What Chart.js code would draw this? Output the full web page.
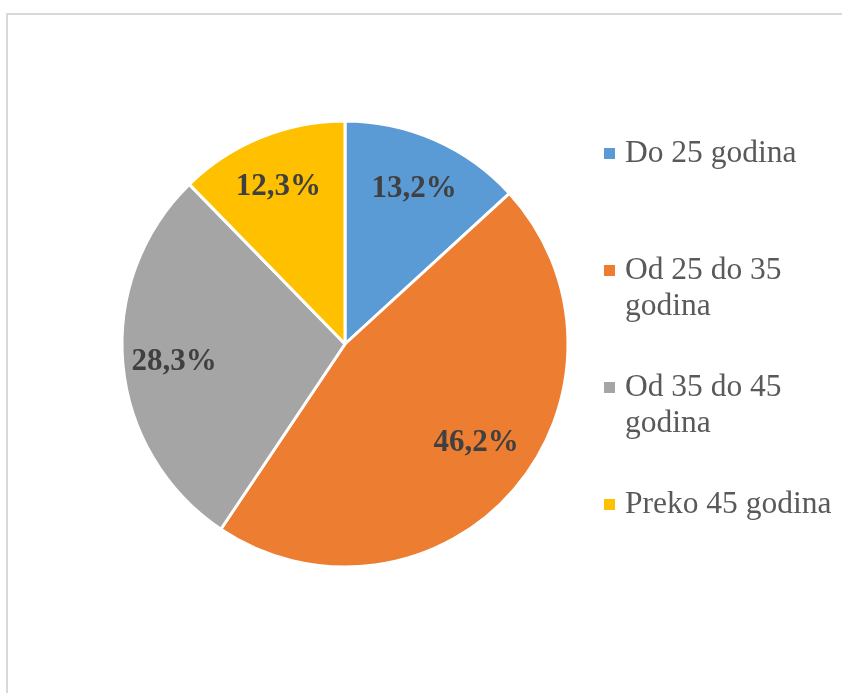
<!DOCTYPE html>
<html>
<head>
<meta charset="utf-8">
<script src="https://cdn.jsdelivr.net/npm/chart.js@4.4.1/dist/chart.umd.min.js"></script>
<style>
    html, body {
        margin: 0;
        padding: 0;
        background: #ffffff;
    }
    #frame {
        position: absolute;
        left: 6px;
        top: 13px;
        width: 900px;
        height: 700px;
        border-top: 2px solid #d9d9d9;
        border-left: 2px solid #d9d9d9;
    }
    #wrap {
        position: absolute;
        left: 0;
        top: 0;
        width: 842px;
        height: 693px;
    }
    .legend-item {
        position: absolute;
        left: 625px;
        width: 215px;
        font-family: "Liberation Serif", "Times New Roman", serif;
        font-size: 31.5px;
        line-height: 36px;
        color: #595959;
    }
    .legend-box {
        position: absolute;
        left: -21px;
        top: 14px;
        width: 11px;
        height: 11px;
    }
</style>
</head>
<body>
<div id="frame"></div>
<div id="wrap">
    <canvas id="pieChart" width="842" height="693"></canvas>
</div>
<script>
const categories = ["Do 25 godina", "Od 25 do 35 godina", "Od 35 do 45 godina", "Preko 45 godina"];
const shares = [13.2, 46.2, 28.3, 12.3];
const sliceColors = ["#5b9bd5", "#ed7d31", "#a5a5a5", "#ffc000"];

function formatShare(value) {
    return value.toFixed(1).replace(".", ",") + "%";
}

// percentage labels inside each slice, Excel "best fit" style
const sliceLabels = {
    id: "sliceLabels",
    afterDatasetsDraw(chart, args, opts) {
        const ctx = chart.ctx;
        const meta = chart.getDatasetMeta(0);
        const nudge = opts.nudge || [];
        ctx.save();
        ctx.font = "bold 31px 'Liberation Serif', 'Times New Roman', serif";
        ctx.fillStyle = "#404040";
        ctx.textAlign = "center";
        ctx.textBaseline = "alphabetic";
        meta.data.forEach((arc, i) => {
            const { x, y, startAngle, endAngle, outerRadius } = arc.getProps(
                ["x", "y", "startAngle", "endAngle", "outerRadius"], true
            );
            const mid = (startAngle + endAngle) / 2;
            const r = outerRadius * 0.77;
            const [dx, dy] = nudge[i] || [0, 0];
            const lx = x + Math.cos(mid) * r + dx;
            const ly = y + Math.sin(mid) * r + dy;
            ctx.fillText(formatShare(shares[i]), lx, ly + 10.5);
        });
        ctx.restore();
    },
};

function buildLegend() {
    const wrap = document.getElementById("wrap");
    const firstBaselines = [163, 280, 397, 514];
    categories.forEach((label, i) => {
        const item = document.createElement("div");
        item.className = "legend-item";
        item.style.top = (firstBaselines[i] - 28.8) + "px";
        const box = document.createElement("span");
        box.className = "legend-box";
        box.style.background = sliceColors[i];
        item.appendChild(box);
        item.appendChild(document.createTextNode(label));
        wrap.appendChild(item);
    });
}

new Chart(document.getElementById("pieChart"), {
    type: "pie",
    data: {
        labels: categories,
        datasets: [
            {
                data: shares,
                backgroundColor: sliceColors,
                borderColor: "#ffffff",
                borderWidth: 3,
            },
        ],
    },
    options: {
        responsive: false,
        animation: false,
        radius: 223,
        layout: {
            padding: { left: 100, right: 252, top: 100, bottom: 105 },
        },
        plugins: {
            legend: { display: false },
            tooltip: { enabled: false },
            sliceLabels: {
                nudge: [[0, 0], [1, -15], [0, 0], [-2, 0]],
            },
        },
    },
    plugins: [sliceLabels],
});

buildLegend();
</script>
</body>
</html>
